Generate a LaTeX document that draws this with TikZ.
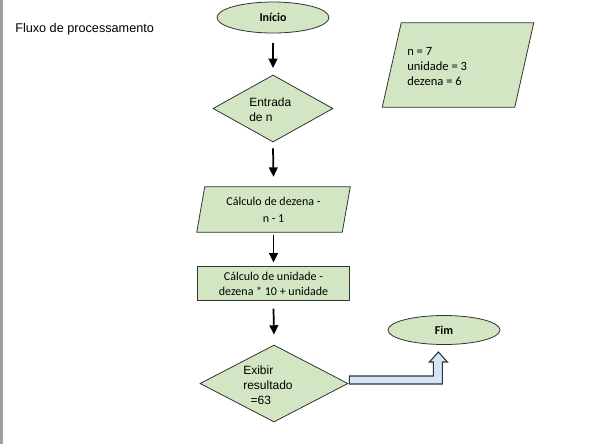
\documentclass[tikz,border=0pt]{standalone}
\usepackage{fontspec}
\setmainfont{Liberation Sans}
\newfontfamily\calib{Carlito}
\usetikzlibrary{shapes.geometric,arrows.meta,calc,backgrounds}
\definecolor{gfill}{HTML}{D3E6C3}
\definecolor{gline}{HTML}{333333}
\definecolor{bfill}{HTML}{D6E4F3}
\definecolor{bline}{HTML}{2A3440}
\tikzset{
  shp/.style={draw=gline, fill=gfill, line width=0.6pt, inner sep=0pt},
  ovalbox/.style={shp, ellipse, minimum width=84pt, font=\calib\bfseries\fontsize{9}{10}\selectfont},
  diabox/.style={shp, diamond},
  parabox/.style={inner sep=0pt, rectangle, font=\calib\fontsize{9}{12.75}\selectfont, align=center},
  paraline/.style={draw=gline, fill=gfill, line width=0.6pt, line join=miter},
  rectbox/.style={shp, rectangle, font=\calib\fontsize{9}{11.25}\selectfont, align=center},
  arialtxt/.style={inner sep=0pt, align=left, font=\fontsize{9}{11.25}\selectfont},
  flow/.style={-{Triangle[length=7pt,width=6.5pt]}, line width=1.3pt, black},
  blockarrow/.style={draw=bline, fill=bfill, line width=0.8pt, line join=miter}
}
\begin{document}
\begin{tikzpicture}[x=0.75pt,y=-0.75pt]
\useasboundingbox (0,0) rectangle (603,444);
\draw[gray!75, line width=1.5pt] (1.5,0) -- (1.5,444);

\node[arialtxt, anchor=west, font=\fontsize{9.5}{11.25}\selectfont] (title) at (15,29) {Fluxo de processamento};

\node[ovalbox, minimum height=23.25pt] (inicio) at (273,17.5) {Início};
\node[diabox, minimum width=90pt, minimum height=50.25pt] (d1) at (273,108.5) {};
\node[arialtxt, anchor=west] (d1t) at (249,110) {Entrada\\de n};

\node[parabox, minimum width=108.75pt, minimum height=33.75pt] (p1) at (273.5,209.5)
      {Cálculo de dezena -\\n - 1};

\node[rectbox, minimum width=114pt, minimum height=25pt] (r1) at (273.5,283.5)
      {Cálculo de unidade -\\dezena * 10 + unidade};

\node[diabox, minimum width=111pt, minimum height=57.75pt] (d2) at (274,383.5) {};
\node[arialtxt, anchor=west] (d2t) at (243,385) {Exibir\\resultado\\\hspace*{5.5pt}=63};

\node[ovalbox, minimum height=21.75pt] (fim) at (444,330) {Fim};

\node[parabox, minimum width=99pt, minimum height=63pt] (p2) at (458,65) {};
\node[inner sep=0pt, align=left, anchor=west, font=\calib\fontsize{9.4}{11.25}\selectfont] (p2t) at (407,67)
      {n = 7\\unidade = 3\\dezena = 6};

\begin{pgfonlayer}{background}
  \fill[white] (0,0) rectangle (603,444);
  \draw[paraline] ($(p1.south west)+(-4,0)$) -- ($(p1.north west)+(4,0)$)
    -- ($(p1.north east)+(4,0)$) -- ($(p1.south east)+(-4,0)$) -- cycle;
  \draw[paraline] ($(p2.south west)+(-9.5,0)$) -- ($(p2.north west)+(9.5,0)$)
    -- ($(p2.north east)+(9.5,0)$) -- ($(p2.south east)+(-9.5,0)$) -- cycle;
\end{pgfonlayer}

\draw[flow] ([yshift=-7pt]inicio.south) -- ([yshift=5pt]d1.north);
\draw[flow] ([yshift=-4.5pt]d1.south) -- ([yshift=7.5pt]p1.north);
\draw[flow] ([yshift=-2pt]p1.south) -- ([yshift=3pt]r1.north);
\draw[flow] ([yshift=-6pt]r1.south) -- ([yshift=7.5pt]d2.north);

\draw[blockarrow]
  ($(d2.east)+(1,-7.5)$) -- ($(d2.east)+(85,-7.5)$) -- ($(d2.east)+(85,-21.5)$)
  -- ($(d2.east)+(81,-21.5)$) -- ($(d2.east)+(90,-31.5)$) -- ($(d2.east)+(99,-21.5)$)
  -- ($(d2.east)+(94,-21.5)$) -- ($(d2.east)+(94,0.5)$) -- ($(d2.east)+(1,0.5)$) -- cycle;
\end{tikzpicture}
\end{document}
